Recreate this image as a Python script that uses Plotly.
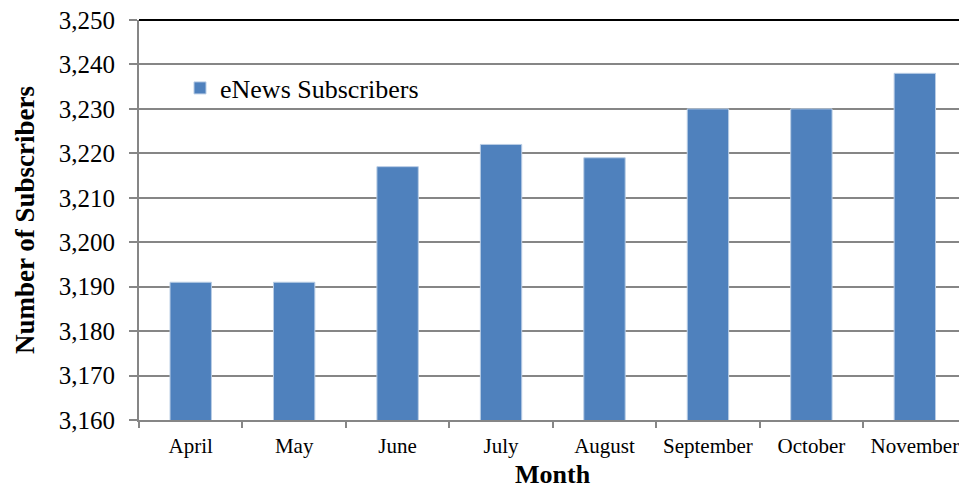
import plotly.graph_objects as go

months = ["April", "May", "June", "July", "August", "September", "October", "November"]
subscribers = [3191, 3191, 3217, 3222, 3219, 3230, 3230, 3238]
y_ticks = list(range(3160, 3251, 10))
y_tick_labels = [f"{v:,}" for v in y_ticks]
x_title = "Month"
y_title = "Number of Subscribers"

grid = "#868686"
font_family = "Liberation Serif, Times New Roman, serif"

fig = go.Figure()
fig.add_trace(go.Bar(
    x=months, y=subscribers, name="eNews Subscribers",
    marker=dict(color="#4F81BD", line=dict(color="#B9CDE5", width=1)),
    width=0.4, showlegend=True,
))

fig.update_layout(
    width=959, height=491,
    margin=dict(l=139, r=0, t=20, b=71),
    paper_bgcolor="white", plot_bgcolor="white",
    font=dict(family=font_family, color="black"),
    showlegend=True,
    legend=dict(x=0.05, y=0.83, xanchor="left", yanchor="middle",
                font=dict(size=26, family=font_family), bgcolor="rgba(0,0,0,0)",
                itemwidth=30),
    xaxis=dict(
        type="category", range=[-0.5, 7.427],
        showline=True, linecolor=grid, linewidth=2,
        ticks="outside", tickson="boundaries", ticklen=6, tickcolor=grid, tickwidth=2,
        ticklabelstandoff=6,
        tickfont=dict(size=21, family=font_family),
        showgrid=False,
    ),
    yaxis=dict(
        range=[3160, 3250], tickvals=y_ticks, ticktext=y_tick_labels,
        showline=True, linecolor=grid, linewidth=2,
        ticks="outside", ticklen=8, tickcolor=grid, tickwidth=2,
        ticklabelstandoff=9,
        showgrid=True, gridcolor=grid, gridwidth=2,
        zeroline=False,
        tickfont=dict(size=25, family=font_family),
        title=dict(text=f"<b>{y_title}</b>", font=dict(size=27, family=font_family), standoff=16),
    ),
    bargap=0.6,
)

fig.add_annotation(text=f"<b>{x_title}</b>", xref="paper", yref="paper", x=0.505, y=-0.175,
                   xanchor="center", yanchor="bottom", showarrow=False, borderpad=0,
                   font=dict(size=26, family=font_family, color="black"))

fig.add_shape(type="line", xref="paper", yref="paper", x0=0, x1=1, y0=1, y1=1,
              line=dict(color="black", width=2))

fig.write_html("out.html")
